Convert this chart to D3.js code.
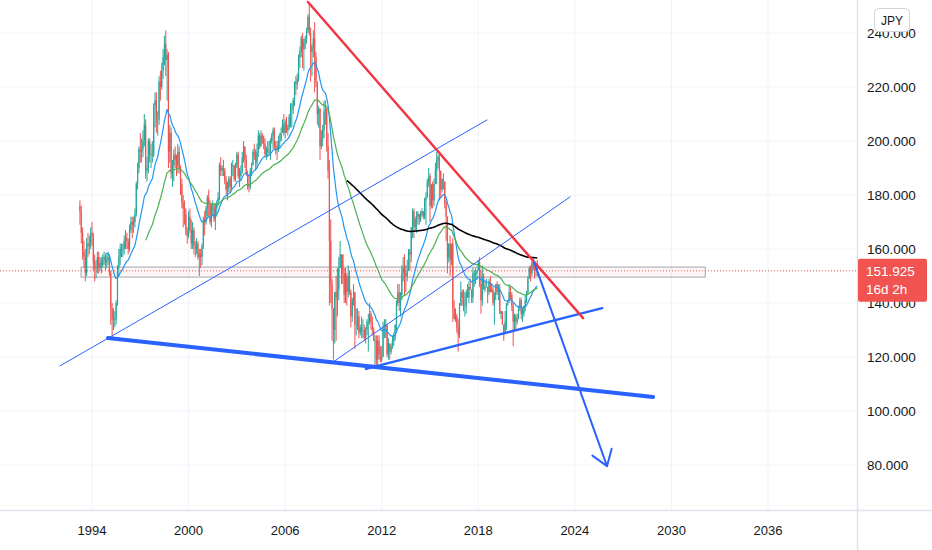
<!DOCTYPE html>
<html><head><meta charset="utf-8">
<script src="https://cdn.jsdelivr.net/npm/d3@7"></script>
<style>html,body{margin:0;padding:0;background:#fff;overflow:hidden}</style>
</head><body>
<svg id="c" width="932" height="550"></svg>
<script>
// ---- DATA (GBP/JPY monthly, Apr 1993 – Sep 2021) ----
const startYear = 1993, startMonth = 4;
const firstOpen = 176;
const closes = [
 174,166,159,157,151,162,161,162,166,
 165,155,153,153,157,153,155,154,156,157,155,156,
 157,151,138,134,134,134,140,153,157,160,160,160,
 163,164,163,160,167,170,169,170,173,184,190,197,
 196,197,200,206,189,190,200,195,195,195,213,215,
 208,208,222,220,226,231,236,230,232,196,203,188,
 191,195,193,191,196,190,184,177,175,173,166,165,
 172,167,162,167,161,160,162,157,158,157,161,171,
 170,175,179,177,170,176,176,171,175,177,179,191,
 189,190,189,185,182,183,186,183,191,191,186,191,
 195,187,187,189,194,198,193,188,184,183,189,191,
 196,195,192,196,202,198,202,201,199,195,197,196,
 196,200,202,204,198,198,197,200,200,203,206,203,
 207,204,205,209,212,212,215,222,221,223,231,233,
 238,234,237,238,241,246,240,233,235,238,231,222,
 210,212,198,201,204,211,212,198,189,163,147,138,
 130,144,142,145,153,158,158,151,143,150,144,150,
 144,135,141,144,132,132,135,129,131,130,130,127,
 130,133,133,136,133,130,126,126,119,126,121,119,
 120,131,132,132,121,125,122,124,126,128,132,140,
 144,140,143,151,153,151,150,152,159,158,168,174,
 168,171,172,173,171,173,174,172,178,179,185,187,
 176,184,178,184,189,193,194,189,182,186,185,177,
 172,157,162,156,162,138,134,135,131,128,139,144,
 142,139,139,144,142,146,145,142,151,151,151,152,
 155,147,141,150,145,146,146,144,148,144,145,140,
 143,147,144,145,136,137,132,129,133,140,141,144,
 143,139,133,135,133,134,138,141,136,136,139,141,
 144,149,153,151,155,153,152,152.5,151.925
];
const highs = [
 178,176,168,163,160,164,166,165,168,
 170,166,158,156,159,159,157,157,158,159,158,158,
 159,158,152,140,138,137,141,154,160,162,162,162,
 165,167,166,164,169,172,172,172,175,185,192,198,
 203,201,204,210,208,194,201,201,199,200,214,218,
 218,211,224,226,229,234,239,241,234,233,206,205,
 193,197,198,195,199,198,191,186,180,178,175,168,
 174,175,171,170,168,163,164,163,160,160,162,172,
 174,176,180,182,178,177,178,177,177,178,181,192,
 194,191,193,190,187,185,187,187,192,193,191,192,
 196,196,190,191,196,200,198,195,189,187,190,192,
 197,199,197,199,204,203,204,203,202,201,198,200,
 200,201,203,205,205,200,200,202,203,205,208,210,
 208,209,206,210,214,214,216,222,224,225,232,235,
 239,240,238,239,242,247,251,242,236,241,244,233,
 222,213,212,204,206,215,215,212,203,193,171,149,
 138,144,150,153,157,163,158,158,153,153,151,154,
 152,145,142,147,144,138,138,137,132,135,134,132,
 131,134,136,140,137,135,131,128,128,128,128,124,
 124,133,134,134,132,127,125,125,128,129,132,141,
 147,147,144,154,157,158,154,156,160,160,168,175,
 175,172,174,174,173,174,175,173,179,181,186,190,
 188,184,185,186,192,196,195,195,187,186,188,185,
 178,172,162,165,162,164,141,138,136,134,140,148,
 145,145,144,145,147,148,149,145,153,152,153,152,
 156,157,152,154,151,148,149,146,149,150,147,146,
 144,147,148,147,147,137,137,132,137,140,141,147,
 146,144,140,136,136,136,139,142,142,138,139,143,
 144.5,150,153.5,154,155.5,157,154,153,156
];
const lows = [
 169,162,156,153,148,150,157,158,160,
 161,152,148,149,151,151,152,151,153,154,152,153,
 154,150,132,127,130,131,132,139,150,154,157,157,
 158,160,160,158,159,166,164,166,168,172,182,188,
 192,192,194,198,186,185,188,192,190,192,194,205,
 203,202,206,215,219,223,228,224,215,190,192,186,
 183,185,190,187,188,188,180,175,168,169,165,162,
 164,166,160,160,158,157,158,156,150,153,154,160,
 165,169,172,172,169,168,172,170,167,172,176,178,
 187,187,187,184,180,178,181,181,182,187,185,185,
 190,186,183,185,188,192,190,187,182,181,182,187,
 191,193,189,190,194,197,198,199,197,194,193,194,
 195,193,199,197,197,195,193,196,197,200,203,202,
 201,203,202,204,205,205,210,213,217,219,222,227,
 231,227,226,234,236,240,239,222,224,231,218,220,
 206,205,193,197,198,201,206,196,186,139,140,126,
 119,125,126,135,141,153,147,147,140,140,139,142,
 143,131,133,139,123,128,130,127,128,127,127,126,
 125,128,122,132,130,128,126,117,117,116,119,118,
 118,120,127,127,120,119,119,121,123,124,126,130,
 139,137,135,141,148,143,144,148,152,152,155,164,
 164,167,166,169,169,170,172,171,171,169,179,183,
 170,175,175,176,184,184,190,178,179,181,182,175,
 163,151,155,150,154,133,134,133,129,122,127,139,
 139,137,135,136,142,140,145,140,140,146,147,149,
 152,146,136,139,145,144,146,140,143,144,145,139,
 132,141,143,141,136,134,132,126,130,130,139,140,
 141,137,124,130,130,132,134,137,134,133,135,137,
 140,143,149,148,150,152,149,150,150
];
const emaPeriods = [20, 50, 200];
const xTickYears = [1994, 2000, 2006, 2012, 2018, 2024, 2030, 2036];
const yTickValues = [80, 100, 120, 140, 160, 180, 200, 220, 240];
const lastPrice = 151.925;
const lastPriceLabel = "151.925";
const countdownLabel = "16d 2h";
const currencyLabel = "JPY";
// drawings: [time (decimal year), price]
const redResistance = [[2007.42, 251.5], [2024.51, 134.4]];
const thickSupport = [[1994.99, 127.0], [2028.86, 105.2]];
const channelLower = [[1992.01, 116.7], [2018.54, 207.8]];
const channelUpper = [[2008.97, 118.1], [2023.70, 179.3]];
const risingSupport = [[2011.02, 115.6], [2025.69, 138.1]];
const arrowPath = [[2021.46, 155.2], [2026.0, 79.6]];
const rangeBox = {t0: 1993.32, t1: 2032.1, p0: 149.6, p1: 153.3};

// ---- LAYOUT ----
const plotR = 857, plotB = 510;
const svg = d3.select("#c");
const x = d3.scaleLinear().domain([1994, 2036]).range([92, 768]);
const y = d3.scaleLinear().domain([80, 240]).range([465, 33]);
const FONT = "'Liberation Sans', Arial, sans-serif";

const bars = closes.map((c, i) => {
  const m = startMonth - 1 + i;
  const t = startYear + m / 12;
  const o = i === 0 ? firstOpen : closes[i - 1];
  return {t, o, c, h: Math.max(highs[i], o, c), l: Math.min(lows[i], o, c)};
});

// grid
const grid = svg.append("g");
grid.selectAll(".gy").data(yTickValues).join("line")
  .attr("x1", 0).attr("x2", plotR).attr("y1", d => y(d)).attr("y2", d => y(d))
  .attr("stroke", "#f0f3fa").attr("stroke-width", 1);
grid.selectAll(".gx").data(xTickYears).join("line")
  .attr("x1", d => x(d)).attr("x2", d => x(d)).attr("y1", 0).attr("y2", plotB)
  .attr("stroke", "#f0f3fa").attr("stroke-width", 1);

// range box
svg.append("rect")
  .attr("x", x(rangeBox.t0)).attr("y", y(rangeBox.p1))
  .attr("width", x(rangeBox.t1) - x(rangeBox.t0)).attr("height", y(rangeBox.p0) - y(rangeBox.p1))
  .attr("fill", "rgba(242,54,69,0.05)").attr("stroke", "#a3a6af").attr("stroke-width", 1);

// last price dotted line
svg.append("line").attr("x1", 0).attr("x2", plotR)
  .attr("y1", y(lastPrice)).attr("y2", y(lastPrice))
  .attr("stroke", "#ef5350").attr("stroke-width", 1).attr("stroke-dasharray", "1,2");

// candles
const cg = svg.append("g");
cg.selectAll("line").data(bars).join("line")
  .attr("x1", d => x(d.t)).attr("x2", d => x(d.t))
  .attr("y1", d => y(d.h)).attr("y2", d => y(d.l))
  .attr("stroke", d => d.c >= d.o ? "#26a69a" : "#ef5350").attr("stroke-width", 1);
cg.selectAll("rect").data(bars).join("rect")
  .attr("x", d => x(d.t) - 0.6).attr("width", 1.2)
  .attr("y", d => y(Math.max(d.o, d.c)))
  .attr("height", d => Math.max(0.8, Math.abs(y(d.o) - y(d.c))))
  .attr("fill", d => d.c >= d.o ? "#26a69a" : "#ef5350");

// exponential moving averages (SMA-seeded)
const maColors = {20: "#2196f3", 50: "#4caf50", 200: "#000000"};
const maWidths = {20: 1.2, 50: 1.2, 200: 1.6};
emaPeriods.forEach(p => {
  const a = 2 / (p + 1);
  const pts = [];
  let prev = d3.mean(closes.slice(0, p));
  pts.push([bars[p - 1].t, prev]);
  for (let i = p; i < bars.length; i++) {
    prev = a * closes[i] + (1 - a) * prev;
    pts.push([bars[i].t, prev]);
  }
  svg.append("path").datum(pts)
    .attr("d", d3.line().x(d => x(d[0])).y(d => y(d[1])).curve(d3.curveMonotoneX))
    .attr("fill", "none").attr("stroke", maColors[p]).attr("stroke-width", maWidths[p]);
});

// drawings
const seg = (pts, color, w) => svg.append("line")
  .attr("x1", x(pts[0][0])).attr("y1", y(pts[0][1]))
  .attr("x2", x(pts[1][0])).attr("y2", y(pts[1][1]))
  .attr("stroke", color).attr("stroke-width", w).attr("stroke-linecap", "round");
seg(channelLower, "#2962ff", 1);
seg(channelUpper, "#2962ff", 1);
seg(risingSupport, "#2962ff", 2.5);
seg(thickSupport, "#2962ff", 4);
seg(redResistance, "#f23645", 2.5);
seg(arrowPath, "#2962ff", 2);
// arrow head
{
  const p0 = [x(arrowPath[0][0]), y(arrowPath[0][1])];
  const p1 = [x(arrowPath[1][0]), y(arrowPath[1][1])];
  const ang = Math.atan2(p1[1] - p0[1], p1[0] - p0[0]) + Math.PI;
  const L = 18, spread = Math.PI / 5.2;
  const a1 = [p1[0] + L * Math.cos(ang - spread), p1[1] + L * Math.sin(ang - spread)];
  const a2 = [p1[0] + L * Math.cos(ang + spread), p1[1] + L * Math.sin(ang + spread)];
  svg.append("path").attr("d", d3.line()([a1, p1, a2]))
    .attr("fill", "none").attr("stroke", "#2962ff").attr("stroke-width", 2)
    .attr("stroke-linecap", "round").attr("stroke-linejoin", "round");
}

// axes frame
svg.append("line").attr("x1", 0).attr("x2", 932).attr("y1", plotB + 0.5).attr("y2", plotB + 0.5)
  .attr("stroke", "#e0e3eb").attr("stroke-width", 1.5);
svg.append("line").attr("x1", plotR + 0.5).attr("x2", plotR + 0.5).attr("y1", 0).attr("y2", 550)
  .attr("stroke", "#e0e3eb").attr("stroke-width", 1.5);

// y labels
svg.append("g").selectAll("text").data(yTickValues).join("text")
  .attr("x", 867).attr("y", d => y(d) + 5)
  .attr("font-family", FONT).attr("font-size", 13.5).attr("fill", "#131722")
  .text(d => d3.format(".3f")(d));
// x labels
svg.append("g").selectAll("text").data(xTickYears).join("text")
  .attr("x", d => x(d)).attr("y", 535).attr("text-anchor", "middle")
  .attr("font-family", FONT).attr("font-size", 13).attr("fill", "#131722")
  .text(d => d);

// price label
const py = y(lastPrice);
svg.append("rect").attr("x", plotR + 1).attr("y", py - 12).attr("width", 69).attr("height", 43)
  .attr("rx", 2).attr("fill", "#f05350");
svg.append("text").attr("x", 866).attr("y", py + 5).attr("font-family", FONT)
  .attr("font-size", 13.5).attr("fill", "#fff").text(lastPriceLabel);
svg.append("text").attr("x", 866).attr("y", py + 23).attr("font-family", FONT)
  .attr("font-size", 13.5).attr("fill", "#fff").text(countdownLabel);

// currency box
svg.append("rect").attr("x", 874.5).attr("y", 8.5).attr("width", 35).attr("height", 23)
  .attr("rx", 4).attr("fill", "#fff").attr("stroke", "#d1d4dc");
svg.append("text").attr("x", 892).attr("y", 24.5).attr("text-anchor", "middle")
  .attr("font-family", FONT).attr("font-size", 12).attr("fill", "#131722").text(currencyLabel);
</script>
</body></html>
